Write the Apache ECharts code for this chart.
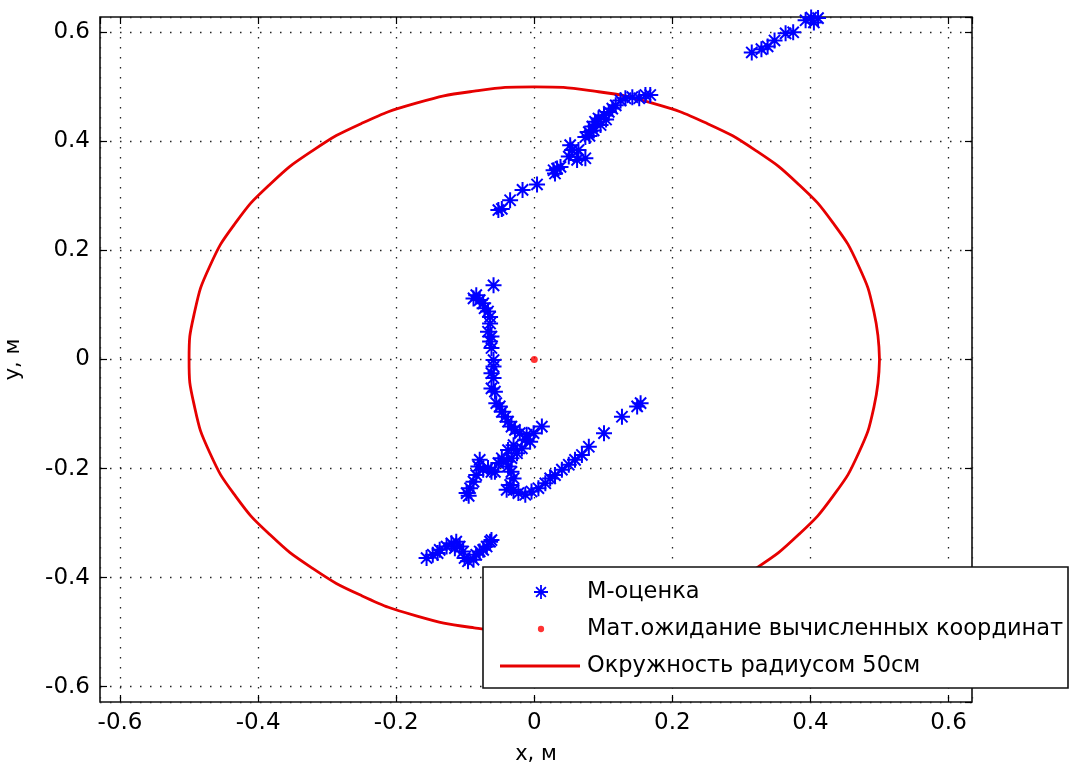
<!DOCTYPE html>
<html>
<head>
<meta charset="utf-8">
<title>M-оценка</title>
<script src="https://cdn.jsdelivr.net/npm/echarts@6/dist/echarts.min.js"></script>
<style>
    html, body { margin: 0; padding: 0; background: #fff; }
    #container { width: 1076px; height: 773px; }
</style>
</head>
<body>
<div id="container"></div>
<script>
// M-оценка координат, [x, y] в метрах
var mEstimate = [
    [0.315,0.563],[0.329,0.569],[0.338,0.574],[0.348,0.585],[0.364,0.598],[0.375,0.600],[0.393,0.622],[0.401,0.627],[0.405,0.618],[0.411,0.626],
    [-0.052,0.274],[-0.047,0.276],[-0.035,0.292],[-0.017,0.311],[0.004,0.321],
    [0.028,0.347],[0.030,0.341],[0.033,0.350],[0.038,0.353],
    [0.050,0.372],[0.055,0.384],[0.052,0.393],[0.062,0.366],[0.074,0.369],[0.064,0.384],
    [0.074,0.408],[0.079,0.417],[0.084,0.427],[0.088,0.436],[0.093,0.442],[0.101,0.448],[0.108,0.454],[0.113,0.460],
    [0.080,0.410],[0.086,0.420],[0.096,0.430],[0.104,0.440],
    [0.118,0.466],[0.125,0.475],[0.132,0.479],[0.142,0.481],[0.152,0.479],[0.161,0.485],[0.168,0.485],
    [-0.059,0.136],[-0.084,0.118],[-0.088,0.112],[-0.079,0.109],[-0.074,0.103],[-0.072,0.094],[-0.067,0.088],[-0.064,0.078],
    [-0.064,0.066],[-0.067,0.051],[-0.062,0.042],[-0.064,0.033],[-0.062,0.021],[-0.059,-0.001],[-0.059,-0.013],[-0.062,-0.025],
    [-0.059,-0.034],[-0.062,-0.053],[-0.057,-0.059],[-0.055,-0.080],[-0.050,-0.086],[-0.047,-0.096],[-0.042,-0.105],[-0.038,-0.114],
    [-0.033,-0.123],[-0.028,-0.129],[-0.021,-0.135],[-0.011,-0.138],[-0.001,-0.135],[0.011,-0.123],
    [-0.018,-0.163],[-0.025,-0.172],[-0.033,-0.181],[-0.040,-0.187],[-0.038,-0.196],[-0.033,-0.206],[-0.030,-0.218],[-0.035,-0.230],[-0.040,-0.239],
    [-0.047,-0.181],[-0.052,-0.190],[-0.038,-0.166],[-0.030,-0.157],[-0.013,-0.147],[-0.006,-0.151],
    [-0.079,-0.184],[-0.081,-0.196],[-0.074,-0.202],[-0.067,-0.199],[-0.062,-0.206],[-0.057,-0.206],
    [-0.084,-0.212],[-0.088,-0.224],[-0.093,-0.236],[-0.098,-0.245],[-0.095,-0.250],
    [-0.030,-0.239],[-0.023,-0.245],[-0.013,-0.248],[-0.004,-0.242],[0.006,-0.236],[0.016,-0.227],[0.023,-0.218],[0.030,-0.212],
    [0.040,-0.202],[0.050,-0.193],[0.059,-0.184],[0.069,-0.175],[0.079,-0.160],[0.101,-0.135],[0.127,-0.105],[0.149,-0.086],[0.154,-0.080],
    [-0.156,-0.364],[-0.147,-0.358],[-0.140,-0.355],[-0.137,-0.349],[-0.127,-0.343],[-0.120,-0.337],[-0.115,-0.346],[-0.113,-0.334],
    [-0.108,-0.343],[-0.103,-0.352],[-0.101,-0.364],[-0.096,-0.370],[-0.088,-0.367],[-0.084,-0.358],[-0.079,-0.352],[-0.074,-0.349],
    [-0.069,-0.343],[-0.064,-0.334],[-0.062,-0.331]
];
// мат.ожидание вычисленных координат
var meanPoint = [[0, 0]];
// окружность радиусом 50 см (точки через 10 градусов)
var circlePts = [
    [0.5,0],[0.492,0.087],[0.470,0.171],[0.433,0.25],[0.383,0.321],[0.321,0.383],[0.25,0.433],[0.171,0.470],[0.087,0.492],
    [0,0.5],[-0.087,0.492],[-0.171,0.470],[-0.25,0.433],[-0.321,0.383],[-0.383,0.321],[-0.433,0.25],[-0.470,0.171],[-0.492,0.087],
    [-0.5,0],[-0.492,-0.087],[-0.470,-0.171],[-0.433,-0.25],[-0.383,-0.321],[-0.321,-0.383],[-0.25,-0.433],[-0.171,-0.470],[-0.087,-0.492],
    [0,-0.5],[0.087,-0.492],[0.171,-0.470],[0.25,-0.433],[0.321,-0.383],[0.383,-0.321],[0.433,-0.25],[0.470,-0.171],[0.492,-0.087],
    [0.5,0]
];
var seriesNames = ['М-оценка', 'Мат.ожидание вычисленных координат', 'Окружность радиусом 50см'];
var axisNames = ['x, м', 'y, м'];
var xRange = [-0.629, 0.634];
var yRange = [-0.628, 0.628];

var FONT = '"DejaVu Sans", Arial, sans-serif';
var ASTERISK = 'path://M10,0L10,20M0,10L20,10M3,3L17,17M17,3L3,17';
var DOT = 'path://M0,0M20,20M5.5,10A4.5,4.5,0,1,1,14.5,10A4.5,4.5,0,1,1,5.5,10Z';
var LINE = 'path://M0,0M82,14M0,5.6L80,5.6L80,8.4L0,8.4Z';

//主坐标轴
function mainAxis(name, range, isX){
    return {
        type: 'value',
        name: name,
        nameLocation: 'middle',
        nameGap: isX ? 42 : 76,
        nameTextStyle: { color: '#000', fontSize: 21, fontFamily: FONT },
        min: range[0],
        max: range[1],
        splitNumber: 6,
        axisLine: { show: false, onZero: false },
        axisTick: { show: true, inside: true, length: 7, lineStyle: { color: '#000', width: 1.2 } },
        axisLabel: {
            color: '#000', fontSize: 23, fontFamily: FONT,
            margin: 10,
            showMinLabel: false, showMaxLabel: false
        },
        splitLine: { show: true, lineStyle: { color: '#222', width: 1.3, type: [1.5, 8.5] } }
    };
}
//对侧坐标轴 只画刻度
function sideAxis(range, pos){
    return {
        type: 'value',
        position: pos,
        min: range[0],
        max: range[1],
        splitNumber: 6,
        axisLine: { show: false, onZero: false },
        axisTick: { show: true, inside: true, length: 7, lineStyle: { color: '#000', width: 1.2 } },
        axisLabel: { show: false },
        splitLine: { show: false }
    };
}

var option = {
    animation: false,
    backgroundColor: '#fff',
    grid: {
        left: 100, right: 104, top: 17, bottom: 71,
        outerBoundsMode: 'none',
        containLabel: false,
        show: true, borderColor: '#111', borderWidth: 1.6, backgroundColor: '#fff'
    },
    xAxis: [mainAxis(axisNames[0], xRange, true), sideAxis(xRange, 'top')],
    yAxis: [mainAxis(axisNames[1], yRange, false), sideAxis(yRange, 'right')],
    legend: {
        orient: 'vertical',
        left: 500,
        top: 579,
        padding: 0,
        z: 6,
        itemWidth: 82,
        itemHeight: 14,
        itemGap: 11,
        itemStyle: { borderWidth: 1.8 },
        textStyle: { color: '#000', fontSize: 22.5, fontFamily: FONT, lineHeight: 26 },
        data: [
            { name: seriesNames[0] },
            { name: seriesNames[1], icon: DOT },
            { name: seriesNames[2], icon: LINE, itemStyle: { borderWidth: 0 } }
        ]
    },
    graphic: [{
        type: 'rect',
        z: 5,
        shape: { x: 483, y: 567, width: 585, height: 121 },
        style: { fill: '#fff', stroke: '#111', lineWidth: 1.6 }
    }],
    series: [
        {
            name: seriesNames[2],
            type: 'line',
            data: circlePts,
            smooth: true,
            symbol: 'none',
            z: 2,
            lineStyle: { color: '#e60000', width: 2.8 },
            itemStyle: { color: '#e60000' }
        },
        {
            name: seriesNames[0],
            type: 'scatter',
            data: mEstimate,
            symbol: ASTERISK,
            symbolSize: 16,
            z: 3,
            itemStyle: { color: '#0000ff', borderColor: '#0000ff', borderWidth: 2, opacity: 1 }
        },
        {
            name: seriesNames[1],
            type: 'scatter',
            data: meanPoint,
            symbol: 'circle',
            symbolSize: 7,
            z: 4,
            itemStyle: { color: '#ff0000' }
        }
    ]
};

var myChart = echarts.init(document.getElementById('container'));
myChart.setOption(option);
</script>
</body>
</html>
